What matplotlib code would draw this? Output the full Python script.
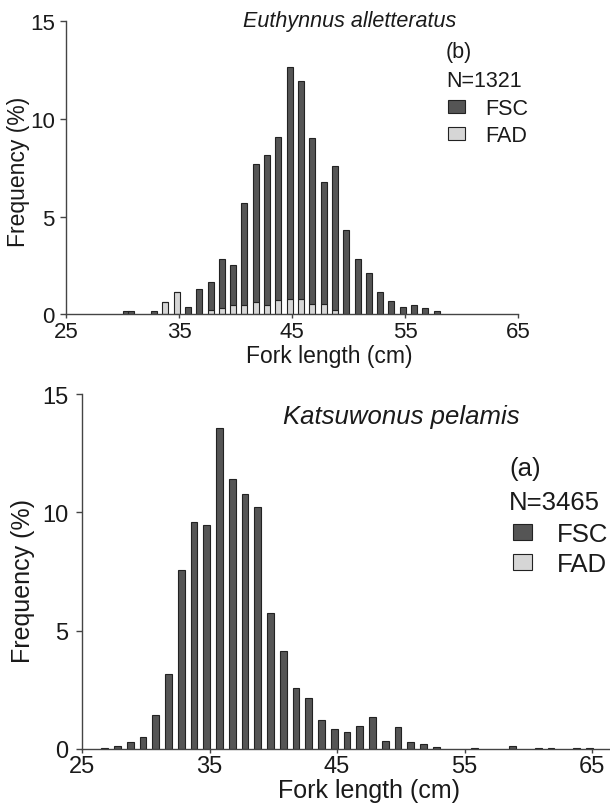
import matplotlib
matplotlib.use('Agg')
import matplotlib.pyplot as plt
from matplotlib.patches import Rectangle
import numpy as np

# Euthynnus alletteratus (b): FAD part at bottom, FSC stacked above
top_len = [30.5, 31, 33, 34, 35, 36, 37, 38, 39, 40, 41, 42, 43, 44, 45, 46,
           47, 48, 49, 50, 51, 52, 53, 54, 55, 56, 57, 58]
top_fad = [0, 0, 0, 0.61, 1.13, 0, 0, 0.22, 0.31, 0.46, 0.46, 0.61, 0.46, 0.75,
           0.80, 0.80, 0.53, 0.53, 0.22, 0, 0, 0, 0, 0, 0, 0, 0, 0]
top_fsc = [0.15, 0.15, 0.15, 0, 0, 0.39, 1.30, 1.45, 2.52, 2.05, 5.23, 7.08,
           7.69, 8.30, 11.87, 11.12, 8.50, 6.22, 7.38, 4.33, 2.83, 2.11, 1.14,
           0.68, 0.39, 0.48, 0.32, 0.17]

# Katsuwonus pelamis (a): FSC only
bot_len = [27, 28, 29, 30, 31, 32, 33, 34, 35, 36, 37, 38, 39, 40, 41, 42, 43,
           44, 45, 46, 47, 48, 49, 50, 51, 52, 53, 56, 59, 61, 62, 64, 65]
bot_fsc = [0.03, 0.13, 0.28, 0.49, 1.42, 3.17, 7.55, 9.58, 9.47, 13.57, 11.39,
           10.76, 10.21, 5.76, 4.16, 2.56, 2.17, 1.24, 0.86, 0.72, 0.96, 1.35,
           0.34, 0.91, 0.28, 0.22, 0.07, 0.03, 0.12, 0.03, 0.03, 0.03, 0.03]

xticks = [25, 35, 45, 55, 65]
yticks = [0, 5, 10, 15]

plt.rcParams['font.family'] = ['Liberation Sans', 'DejaVu Sans']
dark = '#555555'
light = '#d6d6d6'
edge = '#222222'
txt = '#1a1a1a'
spc = '#444444'

W, H = 610, 804
fig = plt.figure(figsize=(W/100, H/100), dpi=100)

def fx(px):
    return px/W

def fy(py):
    return 1 - py/H

def style(ax, fs, xpad, ypad):
    for s in ['top', 'right']:
        ax.spines[s].set_visible(False)
    for s in ['left', 'bottom']:
        ax.spines[s].set_color(spc)
        ax.spines[s].set_linewidth(1.0)
    ax.set_xticks(xticks)
    ax.set_yticks(yticks)
    ax.set_ylim(0, 15)
    ax.tick_params(axis='x', length=3, width=1, color=spc, pad=xpad, labelsize=fs, labelcolor=txt)
    ax.tick_params(axis='y', length=4.5, width=1, color=spc, pad=ypad, labelsize=fs, labelcolor=txt)

def swatch(x0, y0, x1, y1, color):
    fig.add_artist(Rectangle((fx(x0), fy(y1)), (x1-x0)/W, (y1-y0)/H, transform=fig.transFigure,
                             facecolor=color, edgecolor=edge, linewidth=0.8))

# ---- top panel ----
ax1 = fig.add_axes([fx(66), fy(315.3), (518.3-66)/W, 293.3/H])
pos1 = np.array(top_len) - 0.22
ax1.bar(pos1, top_fad, width=0.53, color=light, edgecolor=edge, linewidth=0.8)
ax1.bar(pos1, top_fsc, width=0.53, bottom=top_fad, color=dark, edgecolor=edge, linewidth=0.8)
ax1.set_xlim(25, 65)
style(ax1, 16, 1.5, 3.5)

fig.text(fx(350), fy(26.7), 'Euthynnus alletteratus', style='italic', fontsize=15.5,
         ha='center', va='baseline', color=txt)
fig.text(fx(446), fy(58.3), '(b)', fontsize=15.5, va='baseline', color=txt)
fig.text(fx(446), fy(87.3), 'N=1321', fontsize=15.5, va='baseline', color=txt)
swatch(447.7, 101, 465, 114.3, dark)
fig.text(fx(485.7), fy(115), 'FSC', fontsize=15.5, va='baseline', color=txt)
swatch(447.7, 127.7, 465, 141, light)
fig.text(fx(485.7), fy(141.7), 'FAD', fontsize=15.5, va='baseline', color=txt)
fig.text(fx(329), fy(363.3), 'Fork length (cm)', fontsize=16.5, ha='center', va='baseline', color=txt)
fig.text(fx(30), fy(172), 'Frequency (%)', fontsize=16.5, rotation=90, ha='right', va='center', color=txt)

# ---- bottom panel ----
ax2 = fig.add_axes([fx(82), fy(750), (610-82)/W, 355/H])
pos2 = np.array(bot_len) - 0.22
ax2.bar(pos2, bot_fsc, width=0.52, color=dark, edgecolor=edge, linewidth=0.8)
ax2.set_xlim(25, 25 + (610-82)/12.75)
style(ax2, 17, 1.5, 5.5)

fig.text(fx(401.7), fy(424.3), 'Katsuwonus pelamis', style='italic', fontsize=18.5,
         ha='center', va='baseline', color=txt)
fig.text(fx(509.3), fy(476), '(a)', fontsize=18.5, va='baseline', color=txt)
fig.text(fx(509.3), fy(510), 'N=3465', fontsize=18.5, va='baseline', color=txt)
swatch(513.3, 525, 532.3, 541, dark)
fig.text(fx(556.7), fy(541.7), 'FSC', fontsize=18.5, va='baseline', color=txt)
swatch(513.3, 555, 532.3, 571, light)
fig.text(fx(556.7), fy(571.7), 'FAD', fontsize=18.5, va='baseline', color=txt)
fig.text(fx(368.5), fy(798), 'Fork length (cm)', fontsize=18, ha='center', va='baseline', color=txt)
fig.text(fx(35), fy(581), 'Frequency (%)', fontsize=18, rotation=90, ha='right', va='center', color=txt)

fig.savefig('out.png', dpi=100)
